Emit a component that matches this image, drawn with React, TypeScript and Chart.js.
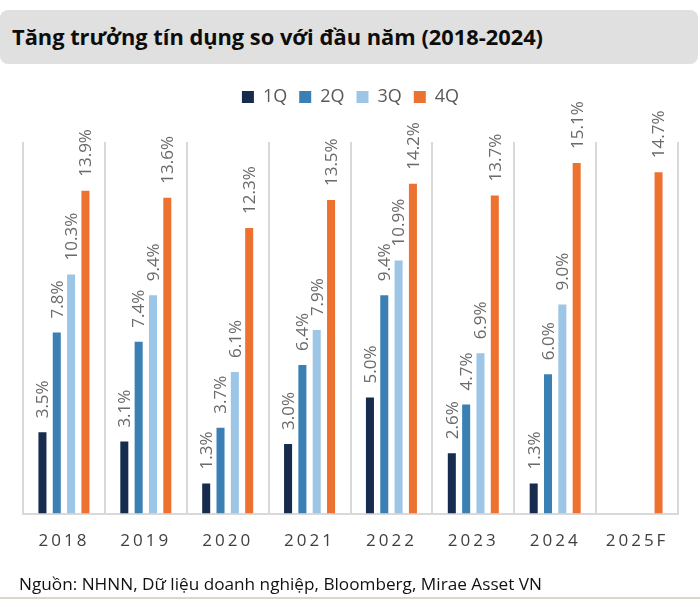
import React, { useEffect, useLayoutEffect, useRef } from 'react';
import { Chart, registerables } from 'chart.js';

Chart.register(...registerables);

const titleText = 'Tăng trưởng tín dụng so với đầu năm (2018-2024)';
const footerText = 'Nguồn: NHNN, Dữ liệu doanh nghiệp, Bloomberg, Mirae Asset VN';

const categories = ['2018', '2019', '2020', '2021', '2022', '2023', '2024', '2025F'];
const seriesNames = ['1Q', '2Q', '3Q', '4Q'];
const q1 = [3.5, 3.1, 1.3, 3.0, 5.0, 2.6, 1.3, null];
const q2 = [7.8, 7.4, 3.7, 6.4, 9.4, 4.7, 6.0, null];
const q3 = [10.3, 9.4, 6.1, 7.9, 10.9, 6.9, 9.0, null];
const q4 = [13.9, 13.6, 12.3, 13.5, 14.2, 13.7, 15.1, 14.7];
const seriesColors = ['#162B4D', '#3A80B4', '#9DC6E6', '#ED7230'];
const yMin = 0;
const yMax = 16;

const barLabelPlugin = {
  id: 'barLabels',
  afterDatasetsDraw(chart: any) {
    const ctx = chart.ctx;
    ctx.save();
    ctx.font = '17px "Open Sans"';
    ctx.fillStyle = '#6a6a6a';
    ctx.textAlign = 'left';
    ctx.textBaseline = 'middle';
    chart.data.datasets.forEach((ds: any, i: number) => {
      const meta = chart.getDatasetMeta(i);
      meta.data.forEach((bar: any, j: number) => {
        const v = ds.data[j];
        if (v === null || v === undefined) return;
        ctx.save();
        ctx.translate(bar.x + 1, bar.y - 14);
        ctx.rotate(-Math.PI / 2);
        ctx.fillText(v.toFixed(1) + '%', 0, 0);
        ctx.restore();
      });
    });
    ctx.restore();
  },
};

const tweakPlugin = {
  id: 'tweaks',
  beforeLayout(chart: any) {
    const lg = chart.legend;
    if (lg && !lg._gapPatched) {
      const f = lg.fit;
      lg.fit = function () {
        f.call(this);
        this.height += 26;
      };
      lg._gapPatched = true;
    }
  },
  beforeDraw(chart: any) {
    const sc = chart.scales.x;
    if (sc && !sc._spPatched) {
      const orig = sc.drawLabels;
      sc.drawLabels = function (area: any) {
        const ctx = this.ctx;
        ctx.save();
        ctx.letterSpacing = '3px';
        orig.call(this, area);
        ctx.restore();
      };
      sc._spPatched = true;
    }
  },
};

function FitText(props: { text: string; target: number; style: any }) {
  const ref = useRef<HTMLSpanElement>(null);
  useLayoutEffect(() => {
    const el = ref.current;
    if (!el) return;
    const fit = () => {
      el.style.transform = 'none';
      const w = el.getBoundingClientRect().width;
      if (w > 0) el.style.transform = `scaleX(${props.target / w})`;
    };
    fit();
    if ((document as any).fonts && (document as any).fonts.ready) {
      (document as any).fonts.ready.then(fit);
    }
  }, [props.text, props.target]);
  return (
    <span ref={ref} style={{ ...props.style, whiteSpace: 'nowrap', transformOrigin: 'left center', display: 'inline-block' }}>
      {props.text}
    </span>
  );
}

export default function App() {
  const canvasRef = useRef<HTMLCanvasElement>(null);

  useEffect(() => {
    const canvas = canvasRef.current;
    if (!canvas) return;
    const data = [q1, q2, q3, q4];
    const chart = new Chart(canvas, {
      type: 'bar',
      data: {
        labels: categories,
        datasets: seriesNames.map((name, i) => ({
          label: name,
          data: data[i],
          backgroundColor: seriesColors[i],
          borderWidth: 0,
          categoryPercentage: 0.7,
          barPercentage: 0.56,
        })),
      },
      options: {
        responsive: false,
        animation: false,
        devicePixelRatio: 1,
        layout: { padding: { left: 23, right: 22, top: 16, bottom: 10 } },
        plugins: {
          legend: {
            position: 'top',
            align: 'center',
            labels: {
              boxWidth: 12,
              boxHeight: 12,
              padding: 12,
              color: '#595959',
              font: { family: '"Open Sans"', size: 18 },
            },
          },
          tooltip: { enabled: false },
          title: { display: false },
        },
        scales: {
          x: {
            grid: { offset: true, color: '#d9d9d9', lineWidth: 2, drawTicks: false },
            border: { display: true, color: '#d9d9d9', width: 2 },
            ticks: {
              color: '#404040',
              padding: 17,
              font: { family: '"Open Sans"', size: 17 },
              maxRotation: 0,
            },
          },
          y: {
            display: false,
            min: yMin,
            max: yMax,
          },
        },
      } as any,
      plugins: [tweakPlugin, barLabelPlugin] as any,
    });
    return () => chart.destroy();
  }, []);

  return (
    <div style={{ position: 'absolute', left: 0, top: 0, width: 700, height: 607, background: '#ffffff', overflow: 'hidden' }}>
      <div style={{ position: 'absolute', left: 0, top: 10, width: 698, height: 54, background: '#e0e0e0', borderRadius: 8 }}>
        <div style={{ position: 'absolute', left: 12, top: 11 }}>
          <FitText
            text={titleText}
            target={531}
            style={{ font: 'bold 22px "Open Sans"', lineHeight: '30px', color: '#0d0d0d' }}
          />
        </div>
      </div>
      <canvas ref={canvasRef} width={700} height={518} style={{ position: 'absolute', left: 0, top: 60, width: 700, height: 518 }} />
      <div style={{ position: 'absolute', left: 19, top: 572 }}>
        <FitText
          text={footerText}
          target={523}
          style={{ font: '17px "Open Sans"', lineHeight: '23px', color: '#111111' }}
        />
      </div>
      <div style={{ position: 'absolute', left: 0, top: 597, width: 700, height: 2, background: '#dcd5cb' }} />
    </div>
  );
}
